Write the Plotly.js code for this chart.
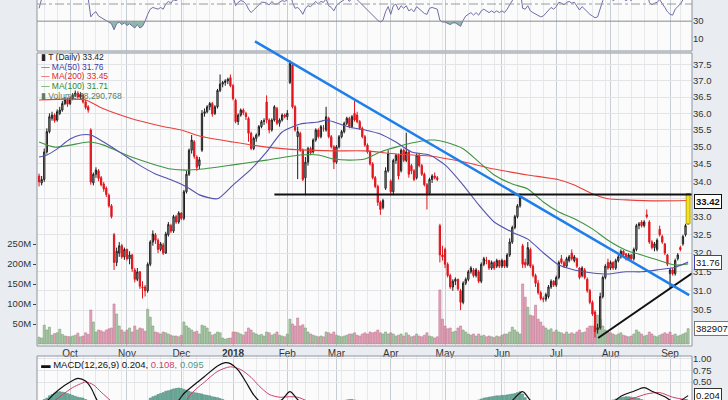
<!DOCTYPE html>
<html><head><meta charset="utf-8">
<script src="https://cdn.plot.ly/plotly-3.0.1.min.js"></script>
<style>html,body{margin:0;padding:0;background:#e9edf2;}#chart{width:728px;height:400px;}</style>
</head><body><div id="chart"></div>
<script>
// ---------- DATA ----------
const startDate = '2017-09-14';
const holidays = ['2017-11-23','2017-12-25','2018-01-01','2018-01-15','2018-02-19','2018-03-30','2018-05-28','2018-07-04','2018-09-03'];
const monthNames = ['Jan','Feb','Mar','Apr','May','Jun','Jul','Aug','Sep','Oct','Nov','Dec'];

const opens = [34.15,33.95,34.05,34.85,35.45,35.85,35.95,35.80,36.00,36.10,36.30,36.42,36.30,36.45,36.55,36.62,36.50,36.55,36.35,36.20,
35.50,33.95,34.20,34.30,34.10,33.92,33.80,33.60,33.30,32.50,31.75,32.00,32.20,31.90,32.10,31.85,31.95,31.55,31.30,31.50,31.10,31.10,31.00,31.70,32.30,32.50,32.35,32.10,32.22,32.00,32.50,32.75,32.60,33.00,32.85,33.10,
32.95,33.70,34.20,34.90,35.15,34.70,34.45,34.90,36.00,36.05,36.20,36.30,36.00,36.20,36.70,36.90,36.95,37.00,37.10,36.85,36.40,35.75,35.95,36.10,36.00,35.85,35.40,34.95,35.25,35.35,35.60,35.75,36.35,35.80,35.50,35.80,36.15,35.70,35.80,35.95,35.90,
36.95,37.50,36.20,35.30,35.40,34.90,34.10,34.55,34.95,34.85,35.20,35.50,35.30,35.55,35.50,35.85,35.30,35.00,34.55,35.00,35.30,35.45,35.70,35.85,35.60,36.00,35.95,35.75,35.55,35.30,35.05,34.85,34.50,34.10,33.85,33.40,33.25,33.80,34.30,34.00,33.70,34.60,34.75,34.30,34.90,34.60,34.85,34.45,34.30,34.10,34.75,34.45,34.20,33.90,33.65,34.05,34.15,34.10,
32.75,31.95,32.10,31.70,31.40,31.10,31.25,31.30,31.00,30.70,31.20,31.30,31.50,31.55,31.40,31.50,31.25,31.70,31.80,31.80,31.60,31.75,31.65,31.80,31.65,31.80,31.65,31.95,32.30,32.70,33.00,33.30,32.20,31.75,31.70,32.10,31.65,31.40,31.20,30.95,30.80,30.78,30.85,31.10,31.25,31.15,31.35,31.85,31.75,31.65,31.80,32.00,31.80,31.85,31.60,31.40,31.55,31.30,31.00,30.70,30.45,30.00,30.05,30.85,31.35,31.75,31.60,31.75,31.60,31.80,31.90,32.05,31.98,31.85,31.95,31.85,32.10,32.75,32.85,32.75,33.05,32.85,32.30,32.15,32.10,32.65,32.45,32.25,31.95,31.45,31.55,31.45,31.85,32.15,32.25,32.50,32.80];

const highs = [34.22,34.15,34.95,35.55,36.00,36.05,36.00,36.12,36.20,36.38,36.50,36.48,36.52,36.62,36.70,36.68,36.65,36.60,36.42,36.25,
35.55,34.25,34.40,34.35,34.15,33.98,33.85,33.65,33.35,32.55,32.15,32.30,32.25,32.15,32.12,32.05,31.98,31.60,31.60,31.52,31.25,31.15,31.75,32.35,32.62,32.55,32.40,32.30,32.28,32.58,32.85,32.80,33.05,33.05,33.15,33.12,
33.75,34.30,34.95,35.35,35.20,34.75,34.70,36.10,36.15,36.25,36.35,36.35,36.25,36.75,37.20,37.00,37.05,37.10,37.20,36.90,36.45,36.00,36.15,36.15,36.05,35.90,35.45,35.30,35.40,35.65,35.80,35.85,36.55,35.85,35.85,36.25,36.20,35.85,36.00,36.00,36.10,
37.65,37.55,36.25,35.60,35.45,34.95,34.70,35.00,35.00,35.25,35.55,35.55,35.65,35.65,36.20,35.90,35.35,35.05,35.05,35.35,35.50,35.75,35.90,35.90,35.95,36.38,36.05,35.80,35.60,35.35,35.10,34.90,34.55,34.15,33.90,33.45,33.50,34.40,34.90,34.05,34.65,34.80,34.80,34.95,34.95,35.42,34.90,34.50,34.35,34.80,34.80,34.50,34.25,33.95,34.10,34.20,34.25,34.15,
32.80,32.20,32.15,31.75,31.45,31.30,31.35,31.32,31.05,31.25,31.35,31.55,31.65,31.60,31.60,31.55,31.75,31.90,31.90,31.82,31.80,31.78,31.85,31.82,31.85,31.82,32.00,32.40,32.75,33.05,33.35,33.65,32.25,31.85,32.30,32.15,31.70,31.45,31.28,31.00,30.85,30.95,31.15,31.30,31.28,31.40,31.80,31.95,31.80,31.90,31.95,32.10,31.95,31.88,31.62,31.65,31.60,31.35,31.05,30.75,30.50,30.15,30.95,31.40,31.70,31.85,31.80,31.78,31.85,31.95,32.10,32.08,32.00,32.00,31.98,32.15,32.80,32.85,32.90,32.90,33.20,32.90,32.35,32.30,32.40,32.75,32.50,32.28,31.98,31.60,31.60,31.85,32.00,32.20,32.50,32.80,33.65];

const lows = [33.85,33.88,33.98,34.80,35.40,35.78,35.72,35.75,35.95,36.05,36.25,36.20,36.25,36.40,36.50,36.45,36.42,36.30,36.12,36.02,
33.90,33.88,34.10,34.00,33.85,33.70,33.55,33.25,32.95,31.55,31.65,31.90,31.85,31.82,31.80,31.70,31.50,31.22,31.25,31.05,30.80,30.85,30.95,31.65,32.20,32.25,32.00,32.05,31.95,31.98,32.45,32.55,32.55,32.80,32.80,32.90,
32.90,33.65,34.15,34.80,34.65,34.30,34.35,34.85,35.90,36.00,36.10,35.90,35.95,36.15,36.65,36.80,36.85,36.90,36.80,36.40,35.70,35.65,35.90,35.95,35.80,35.15,34.90,34.90,35.15,35.30,35.55,35.65,35.70,35.40,35.45,35.75,35.65,35.60,35.75,35.85,35.80,
36.90,36.15,35.45,34.06,34.85,34.00,33.60,34.45,34.75,34.80,35.15,35.25,35.25,35.45,35.45,35.25,34.95,34.35,34.50,34.95,35.25,35.40,35.65,35.55,35.55,35.75,35.70,35.50,35.25,35.00,34.80,34.45,34.05,33.80,33.30,33.05,33.20,33.75,34.25,33.60,33.60,34.50,34.05,34.25,34.55,34.55,34.10,34.20,34.00,34.05,34.40,34.15,33.85,33.20,33.60,33.95,34.05,34.00,
31.75,31.80,31.60,31.35,31.05,31.00,31.15,31.00,30.50,30.65,31.15,31.25,31.45,31.35,31.35,31.20,31.20,31.65,31.70,31.55,31.55,31.55,31.60,31.60,31.60,31.60,31.60,31.90,32.25,32.65,32.95,33.25,31.60,31.60,31.65,31.60,31.35,31.10,30.90,30.75,30.70,30.72,30.80,31.05,31.10,31.10,31.30,31.70,31.60,31.60,31.75,31.80,31.75,31.60,31.30,31.35,31.30,30.95,30.65,30.35,29.80,29.90,30.00,30.80,31.30,31.55,31.55,31.55,31.55,31.75,31.85,31.90,31.80,31.80,31.80,31.80,32.05,32.65,32.70,32.70,32.95,32.25,32.10,32.05,32.05,32.45,32.25,31.95,31.65,31.05,31.40,31.40,31.80,32.05,32.20,32.45,32.78];

const closes = [33.98,34.05,34.85,35.45,35.90,35.95,35.78,36.05,36.10,36.30,36.42,36.28,36.45,36.55,36.62,36.50,36.58,36.35,36.18,36.10,
33.98,34.20,34.32,34.08,33.90,33.78,33.62,33.30,33.00,31.75,32.05,32.20,31.90,32.10,31.85,31.95,31.58,31.30,31.50,31.12,31.08,31.00,31.70,32.30,32.52,32.35,32.10,32.25,32.00,32.52,32.78,32.60,33.00,32.85,33.10,32.95,
33.70,34.20,34.90,35.20,34.72,34.40,34.62,36.00,36.05,36.20,36.30,35.98,36.20,36.70,36.90,36.95,37.00,37.05,36.85,36.45,35.75,35.95,36.10,36.02,35.90,35.40,34.95,35.25,35.35,35.60,35.75,35.78,35.80,35.50,35.80,36.20,35.70,35.80,35.95,35.90,36.00,
37.55,36.20,35.50,35.45,34.90,34.05,34.55,34.95,34.82,35.20,35.50,35.30,35.60,35.55,35.90,35.30,35.00,34.55,35.00,35.30,35.45,35.70,35.85,35.60,35.90,35.80,35.75,35.55,35.30,35.05,34.85,34.50,34.10,33.85,33.40,33.20,33.45,34.30,34.80,33.70,34.60,34.75,34.15,34.90,34.60,34.85,34.20,34.30,34.05,34.75,34.45,34.20,33.90,33.65,34.05,34.15,34.10,34.05,
31.95,31.90,31.70,31.40,31.10,31.25,31.30,31.05,30.70,31.20,31.30,31.50,31.60,31.40,31.55,31.25,31.70,31.85,31.80,31.60,31.75,31.60,31.80,31.65,31.80,31.65,31.95,32.30,32.70,33.00,33.30,33.55,31.70,31.68,32.15,31.65,31.40,31.20,30.95,30.80,30.78,30.90,31.10,31.25,31.15,31.35,31.75,31.75,31.65,31.85,31.90,31.85,31.90,31.65,31.35,31.60,31.35,31.00,30.70,30.40,29.95,30.05,30.85,31.35,31.65,31.60,31.75,31.60,31.80,31.90,32.05,31.95,31.85,31.95,31.85,32.10,32.75,32.80,32.75,32.85,33.00,32.30,32.15,32.25,32.35,32.50,32.30,32.00,31.70,31.55,31.45,31.80,31.95,32.10,32.45,32.75,33.42];

// volume in millions of shares
const volumesM = [17,15,47,35,42,22,26,28,37,24,20,19,18,20,22,27,18,20,28,24,
85,55,30,35,33,30,35,38,40,100,75,45,35,30,35,40,30,45,35,40,38,32,87,67,45,30,28,25,30,28,25,22,20,20,18,22,
55,45,40,35,30,32,25,47,45,40,30,22,25,30,28,15,12,14,15,30,30,28,25,22,30,40,35,28,25,22,24,20,30,28,22,25,30,22,20,18,25,
62,50,45,65,45,48,40,30,25,22,20,18,20,18,30,28,25,30,22,20,18,20,22,25,25,28,22,20,25,28,25,30,28,30,35,28,25,30,25,28,25,20,22,25,20,28,22,18,20,25,20,18,22,28,20,18,15,18,
135,62,45,38,40,30,32,40,45,35,30,25,22,25,20,25,20,22,18,20,18,16,20,18,22,25,25,30,42,35,30,25,150,117,92,72,70,97,62,55,45,40,35,38,30,35,30,28,25,30,25,28,25,30,35,28,30,40,45,45,45,72,62,45,35,30,28,25,22,25,28,22,20,18,20,25,35,30,25,20,22,30,25,20,18,22,25,28,25,30,22,25,20,22,25,28,38.290768];

// moving averages read at sample days (day index, value)
const ma50Day = [0,3,7,12,16,20,25,31,38,45,51,57,62,69,75,82,88,94,101,108,111,114,120,126,132,138,144,151,157,164,170,176,183,189,195,201,207,214,220,227,233,239,246,251];
const ma50Val = [34.70,34.76,34.94,35.23,35.35,35.35,35.14,34.85,34.50,34.21,34.04,33.84,33.61,33.50,33.89,34.35,34.85,35.44,35.68,35.74,35.80,35.74,35.59,35.50,35.38,35.14,34.85,34.76,34.47,33.89,33.33,32.85,32.57,32.38,32.01,31.68,31.55,31.47,31.44,31.50,31.50,31.55,31.62,31.76];
const ma200Day = [0,18,24,35,47,55,62,75,88,101,114,126,138,151,164,176,189,201,207,214,220,227,239,251];
const ma200Val = [36.41,36.41,36.17,35.86,35.62,35.50,35.32,35.14,34.99,34.91,34.88,34.88,34.79,34.73,34.56,34.35,34.18,34.04,33.89,33.64,33.50,33.47,33.44,33.45];
const ma100Day = [0,6,12,19,25,31,38,45,51,57,63,75,88,101,108,114,120,126,132,138,144,151,153,157,164,170,176,183,189,195,201,207,214,220,227,233,239,246,251];
const ma100Val = [35.14,34.99,35.05,35.14,35.05,34.85,34.64,34.47,34.35,34.32,34.35,34.47,34.61,34.76,34.76,34.64,34.61,34.64,34.85,34.99,35.11,35.20,35.20,35.14,34.94,34.56,34.18,33.92,33.78,33.41,33.13,32.94,32.66,32.35,32.08,31.95,31.82,31.68,31.71];

// RSI(14) per day
const rsi = [45,56,60,63,66,65,62,64,65,67,68,65,67,68,69,65,66,61,58,57,
35,39,41,36,34,33,31,29,27,20,27,29,26,28,25,27,24,22,26,22,
24,30,38,44,46,45,44,46,44,50,53,51,55,54,56,55,64,68,72,73,
66,61,63,72,73,75,76,70,72,76,78,78,78,79,70,60,48,52,54,53,
50,44,40,43,46,50,52,52,51,49,53,50,50,52,54,53,55,66,52,45,
46,43,38,45,48,47,50,53,50,53,52,56,48,46,42,48,51,53,56,57,
53,57,56,55,52,49,45,43,40,36,33,31,29,31,41,47,38,48,50,43,
48,45,48,42,44,41,47,44,42,39,38,45,46,45,44,31,29,29,27,26,
28,28,26,24,31,36,38,40,37,40,37,42,44,42,40,42,40,42,40,42,
40,44,50,56,62,66,69,45,44,48,42,40,38,36,35,36,39,43,46,44,
47,52,51,49,52,53,51,52,47,43,47,44,40,38,36,34,35,46,54,58,
55,57,54,56,57,60,56,54,56,54,58,67,68,66,67,66,52,49,51,52,
55,51,46,41,38,37,44,47,50,55,59,66];

// MACD(12,26,9)
const macdHist = [0.05,0.08,0.12,0.15,0.2,0.23,0.26,0.28,0.29,0.28,0.27,0.25,0.23,0.21,0.19,0.17,0.16,0.15,0.12,0.08,
0.02,-0.05,-0.1,-0.15,-0.18,-0.2,-0.22,-0.24,-0.26,-0.3,-0.3,-0.28,-0.25,-0.22,-0.2,-0.18,-0.15,-0.12,-0.1,-0.06,
-0.02,0.03,0.08,0.15,0.18,0.2,0.23,0.25,0.27,0.3,0.31,0.33,0.35,0.36,0.37,0.36,0.34,0.32,0.3,0.28,
0.27,0.26,0.25,0.24,0.22,0.21,0.2,0.18,0.17,0.16,0.14,0.12,0.1,0.08,0.05,0.0,-0.05,-0.1,-0.14,-0.18,
-0.2,-0.22,-0.24,-0.25,-0.24,-0.22,-0.2,-0.18,-0.16,-0.14,-0.12,-0.1,-0.08,-0.06,-0.04,-0.02,0.02,0.08,0.05,0.0,
-0.05,-0.1,-0.14,-0.17,-0.19,-0.2,-0.18,-0.16,-0.13,-0.1,-0.07,-0.04,-0.02,0.0,0.02,0.04,0.06,0.08,0.1,0.11,
0.12,0.12,0.11,0.1,0.08,0.05,0.02,-0.02,-0.06,-0.1,-0.14,-0.17,-0.19,-0.2,-0.18,-0.15,-0.13,-0.1,-0.08,-0.06,
-0.04,-0.02,0.0,0.01,0.02,0.02,0.03,0.03,0.02,0.0,-0.03,-0.04,-0.05,-0.05,-0.06,-0.12,-0.15,-0.17,-0.18,-0.19,
-0.18,-0.16,-0.14,-0.12,-0.08,-0.04,0.0,0.03,0.06,0.09,0.11,0.13,0.15,0.16,0.17,0.18,0.19,0.2,0.2,0.21,
0.21,0.22,0.23,0.24,0.25,0.27,0.29,0.24,0.16,0.1,0.05,0.0,-0.04,-0.08,-0.1,-0.12,-0.13,-0.13,-0.12,-0.1,
-0.08,-0.06,-0.04,-0.02,0.0,0.01,0.02,0.02,0.01,-0.01,-0.03,-0.05,-0.07,-0.09,-0.1,-0.1,-0.08,-0.04,0.0,0.04,
0.07,0.09,0.11,0.13,0.15,0.16,0.17,0.18,0.18,0.17,0.16,0.15,0.14,0.12,0.1,0.08,0.05,0.02,0.0,-0.02,
-0.04,-0.06,-0.08,-0.09,-0.1,-0.08,-0.05,-0.02,0.01,0.04,0.07,0.095];
const macdDay = [0,3,5,8,12,15,18,20,22,24,30,36,41,46,51,54,56,60,64,69,72,74,77,80,83,86,90,94,97,100,104,110,116,121,126,132,140,148,155,163,170,178,183,187,190,196,205,215,220,225,230,234,237,242,245,248,251];
const macdVal = [-0.1,0.08,0.2,0.35,0.5,0.58,0.52,0.38,0.15,-0.05,-0.4,-0.55,-0.6,-0.35,-0.1,0.1,0.25,0.44,0.62,0.85,0.92,0.9,0.76,0.5,0.22,0.05,0.0,0.12,0.29,0.12,-0.12,-0.1,0.0,0.08,0.0,-0.3,-0.25,-0.2,-0.35,-0.55,-0.4,-0.15,0.1,0.29,0.1,-0.2,-0.12,-0.35,-0.05,0.19,0.3,0.38,0.3,0.18,0.08,0.1,0.204];
const signalDay = [0,5,9,13,16,18,21,24,28,34,42,50,55,58,61,64,69,74,78,82,85,89,93,97,100,104,110,118,124,130,140,150,158,166,175,182,188,193,200,210,217,224,230,235,240,245,251];
const signalVal = [-0.2,0.05,0.22,0.38,0.46,0.5,0.44,0.28,0.08,-0.2,-0.45,-0.35,-0.1,0.19,0.36,0.5,0.73,0.83,0.77,0.6,0.42,0.23,0.17,0.18,0.17,0.08,-0.05,-0.05,0.03,-0.1,-0.22,-0.2,-0.3,-0.45,-0.35,-0.1,0.08,0.0,-0.12,-0.15,-0.25,0.05,0.15,0.24,0.27,0.17,0.108];

// hand-drawn trendlines (day index, price)
const downTrendDay = [97, 186], downTrendPrice = [37.6, 33.57], downTrendSpan = [83.5, 251.4];
const supportDay = [91, 252.5], supportPrice = [33.62, 33.62];
const risingDay = [216.2, 252.5], risingPrice = [29.79, 31.46];

const priceTicks = [30.5,31,31.5,32,32.5,33,33.5,34,34.5,35,35.5,36,36.5,37,37.5];
const volumeTicksM = [50,100,150,200,250];
const rsiTicks = [10,30,50];
const macdTicks = [0.5,0.75,1.0];

// ---------- BUILD ----------
const n = closes.length;
const day = Array.from({length:n},(_,i)=>i);
function buildDates(start,count,hol){
  const out=[]; let d=new Date(start+'T12:00:00Z');
  while(out.length<count){
    const w=d.getUTCDay(), iso=d.toISOString().slice(0,10);
    if(w!==0&&w!==6&&!hol.includes(iso)) out.push(iso);
    d=new Date(d.getTime()+86400000);
  }
  return out;
}
const dates = buildDates(startDate,n,holidays);
const monthTickDay=[], monthTickText=[], weekTickDay=[];
for(let i=1;i<n;i++){
  const m=+dates[i].slice(5,7), pm=+dates[i-1].slice(5,7);
  if(m!==pm){ monthTickDay.push(i); monthTickText.push(m===1?'<b>'+dates[i].slice(0,4)+'</b>':monthNames[m-1]); }
  const w=new Date(dates[i]+'T12:00:00Z').getUTCDay(), pw=new Date(dates[i-1]+'T12:00:00Z').getUTCDay();
  if(w<pw) weekTickDay.push(i);
}
const volColors = closes.map((c,i)=> (i===0||c>=closes[i-1]) ? 'rgba(120,170,115,0.6)' : 'rgba(210,110,145,0.6)');
const volLine = closes.map((c,i)=> (i===0||c>=closes[i-1]) ? '#7fa07a' : '#c27890');

const mainDom=[0.135,0.8675], rsiDom=[0.8725,1], macdDom=[0,0.11];
const priceRange=[Math.log10(29.59),Math.log10(37.88)];
const xRange=[-0.8,252.5];
function priceToPaper(p){return mainDom[0]+(Math.log10(p)-priceRange[0])/(priceRange[1]-priceRange[0])*(mainDom[1]-mainDom[0]);}
function onTrend(d){const t=(d-downTrendDay[0])/(downTrendDay[1]-downTrendDay[0]);return Math.exp(Math.log(downTrendPrice[0])+t*(Math.log(downTrendPrice[1])-Math.log(downTrendPrice[0])));}

const last=n-1;
const traces=[
 {type:'bar',x:day,y:volumesM,xaxis:'x',yaxis:'y',width:0.8,marker:{color:volColors,line:{color:volLine,width:0.6}},hoverinfo:'skip'},
 {type:'scatter',mode:'lines',x:ma200Day,y:ma200Val,xaxis:'x',yaxis:'y2',line:{color:'#e8413c',width:1.1,shape:'spline',smoothing:0.6},hoverinfo:'skip'},
 {type:'scatter',mode:'lines',x:ma100Day,y:ma100Val,xaxis:'x',yaxis:'y2',line:{color:'#3f9440',width:1.1,shape:'spline',smoothing:0.6},hoverinfo:'skip'},
 {type:'scatter',mode:'lines',x:ma50Day,y:ma50Val,xaxis:'x',yaxis:'y2',line:{color:'#5353ad',width:1.1,shape:'spline',smoothing:0.6},hoverinfo:'skip'},
 {type:'candlestick',x:day,open:opens,high:highs,low:lows,close:closes,xaxis:'x',yaxis:'y2',whiskerwidth:0,
  increasing:{line:{color:'#1e1e1e',width:1},fillcolor:'#b5b5b5'},
  decreasing:{line:{color:'#e2141b',width:1},fillcolor:'#e2141b'},hoverinfo:'skip'},
 {type:'scatter',mode:'lines',x:[last-0.75,last+0.75,last+0.75,last-0.75,last-0.75],y:[opens[last],opens[last],highs[last],highs[last],opens[last]],
  xaxis:'x',yaxis:'y2',fill:'toself',fillcolor:'#f3e21c',line:{color:'#b9a500',width:1},hoverinfo:'skip'},
 {type:'scatter',mode:'lines',x:supportDay,y:supportPrice,xaxis:'x',yaxis:'y2',line:{color:'#111',width:2},hoverinfo:'skip'},
 {type:'scatter',mode:'lines',x:risingDay,y:risingPrice,xaxis:'x',yaxis:'y2',line:{color:'#111',width:2},hoverinfo:'skip'},
 // RSI
 {type:'scatter',mode:'lines',x:day,y:day.map(()=>30),xaxis:'x',yaxis:'y3',line:{width:0,color:'rgba(0,0,0,0)'},hoverinfo:'skip'},
 {type:'scatter',mode:'lines',x:day,y:rsi.map(v=>Math.min(v,30)),xaxis:'x',yaxis:'y3',fill:'tonexty',fillcolor:'rgba(60,130,110,0.55)',line:{width:0,color:'rgba(0,0,0,0)'},hoverinfo:'skip'},
 {type:'scatter',mode:'lines',x:day,y:rsi,xaxis:'x',yaxis:'y3',line:{color:'#6e6ea6',width:1},hoverinfo:'skip'},
 // MACD
 {type:'bar',x:day,y:macdHist,xaxis:'x',yaxis:'y4',width:0.8,marker:{color:'#6fae9e',line:{color:'#3e7f6f',width:0.5}},hoverinfo:'skip'},
 {type:'scatter',mode:'lines',x:signalDay,y:signalVal,xaxis:'x',yaxis:'y4',line:{color:'#cf3f6b',width:1,shape:'spline',smoothing:0.8},hoverinfo:'skip'},
 {type:'scatter',mode:'lines',x:macdDay,y:macdVal,xaxis:'x',yaxis:'y4',line:{color:'#111',width:1.2,shape:'spline',smoothing:0.8},hoverinfo:'skip'}
];

const F='Liberation Sans, Arial, sans-serif';
function px2x(p){return (p-37)/655;}
function py2y(p){return 1-p/400;}
const legendLines=[
 ['<span style="color:#222">▮ T (Daily) '+closes[last].toFixed(2)+'</span>',57],
 ['<span style="color:#3c3ca8">— MA(50) '+ma50Val[ma50Val.length-1].toFixed(2)+'</span>',66.5],
 ['<span style="color:#e02828">— MA(200) '+ma200Val[ma200Val.length-1].toFixed(2)+'</span>',76],
 ['<span style="color:#2f8a2f">— MA(100) '+ma100Val[ma100Val.length-1].toFixed(2)+'</span>',85.5],
 ['<span style="color:#5d7d5d">▮ Volume '+Math.round(volumesM[last]*1e6).toLocaleString('en-US')+'</span>',95]
];
const annotations=legendLines.map(([t,py])=>({xref:'paper',yref:'paper',x:px2x(40),y:py2y(py),xanchor:'left',yanchor:'middle',text:t,showarrow:false,height:9,borderpad:0,font:{family:F,size:8.5}}));
annotations.push({xref:'paper',yref:'paper',x:px2x(40),y:py2y(364),xanchor:'left',yanchor:'middle',showarrow:false,height:10,borderpad:0,font:{family:F,size:9.5},
 text:'<span style="color:#111">▬ MACD(12,26,9) '+macdVal[macdVal.length-1].toFixed(3)+',</span> <span style="color:#cf3f6b">'+signalVal[signalVal.length-1].toFixed(3)+',</span> <span style="color:#4f9a8a">'+macdHist[last].toFixed(3)+'</span>'});
function tag(yref,y,text,border,bold){return {xref:'paper',yref:yref,x:px2x(694),y:y,xanchor:'left',yanchor:'middle',showarrow:false,text:bold?'<b>'+text+'</b>':text,
 font:{family:F,size:9.5,color:'#111'},bgcolor:'#ffffff',bordercolor:border,borderwidth:1,borderpad:1,height:11};}
annotations.push(tag('y2',Math.log10(closes[last]),closes[last].toFixed(2),'#111',true));
annotations.push(tag('y2',Math.log10(ma50Val[ma50Val.length-1]),ma50Val[ma50Val.length-1].toFixed(2),'#3c3ca8',false));
annotations.push(tag('y',volumesM[last],String(Math.round(volumesM[last]*1e6)),'#777',false));
annotations.push(tag('y4',macdVal[macdVal.length-1],macdVal[macdVal.length-1].toFixed(3),'#333',false));

const shapes=[
 {type:'line',xref:'paper',yref:'y3',x0:0,x1:1,y0:50,y1:50,line:{color:'#9a9a9a',width:1,dash:'dashdot'}},
 {type:'line',xref:'paper',yref:'y3',x0:0,x1:1,y0:30,y1:30,line:{color:'#8a8a8a',width:1}},
 {type:'rect',xref:'paper',yref:'paper',x0:0,x1:1,y0:mainDom[0],y1:mainDom[1],line:{color:'#8d949d',width:1}},
 {type:'rect',xref:'paper',yref:'paper',x0:0,x1:1,y0:rsiDom[0],y1:1.05,line:{color:'#8d949d',width:1}},
 {type:'rect',xref:'paper',yref:'paper',x0:0,x1:1,y0:-0.05,y1:macdDom[1],line:{color:'#8d949d',width:1}},
 {type:'line',xref:'x',yref:'paper',x0:downTrendSpan[0],x1:downTrendSpan[1],y0:priceToPaper(onTrend(downTrendSpan[0])),y1:priceToPaper(onTrend(downTrendSpan[1])),line:{color:'#1f7fe8',width:2.5}}
];

// tick labels hidden where the last-close tag sits over them (as in the source chart)
const priceTickText = priceTicks.map(v => Math.abs(v-closes[last])<0.15 ? '' : v.toFixed(1));
const tickFont={family:F,size:9.5,color:'#333'};
const layout={
 width:728,height:400,margin:{l:37,r:36,t:0,b:0},paper_bgcolor:'#e9edf2',plot_bgcolor:'#fbfbfc',
 showlegend:false,font:{family:F,size:10,color:'#333'},
 xaxis:{domain:[0,1],range:xRange,anchor:'y',tickmode:'array',tickvals:monthTickDay,ticktext:monthTickText,ticks:'',
   showgrid:true,gridcolor:'#c8cdd4',zeroline:false,showline:false,tickfont:{family:F,size:10,color:'#333'},
   rangeslider:{visible:false},minor:{tickmode:'array',tickvals:weekTickDay,showgrid:true,gridcolor:'#e6e8ec',ticks:''}},
 yaxis:{domain:mainDom,range:[-5,727.5],side:'left',tickmode:'array',tickvals:volumeTicksM,ticktext:volumeTicksM.map(v=>v+'M'),
   showgrid:false,zeroline:false,ticks:'outside',ticklen:3,tickcolor:'#444',tickfont:tickFont},
 yaxis2:{overlaying:'y',side:'right',anchor:'x',type:'log',range:priceRange,tickmode:'array',tickvals:priceTicks,ticktext:priceTickText,
   showgrid:true,gridcolor:'#e2e4e8',zeroline:false,ticks:'',tickfont:tickFont},
 yaxis3:{domain:rsiDom,range:[-4.8,54.7],side:'right',anchor:'x',tickmode:'array',tickvals:rsiTicks,showgrid:false,zeroline:false,ticks:'',tickfont:tickFont},
 yaxis4:{domain:macdDom,range:[0.109,1.065],side:'right',anchor:'x',tickmode:'array',tickvals:macdTicks,ticktext:macdTicks.map(v=>v.toFixed(2)),
   showgrid:true,gridcolor:'#e2e4e8',zeroline:false,ticks:'',tickfont:tickFont},
 shapes:shapes,annotations:annotations
};
Plotly.newPlot('chart',traces,layout,{staticPlot:true,displayModeBar:false});
</script>
</body></html>
